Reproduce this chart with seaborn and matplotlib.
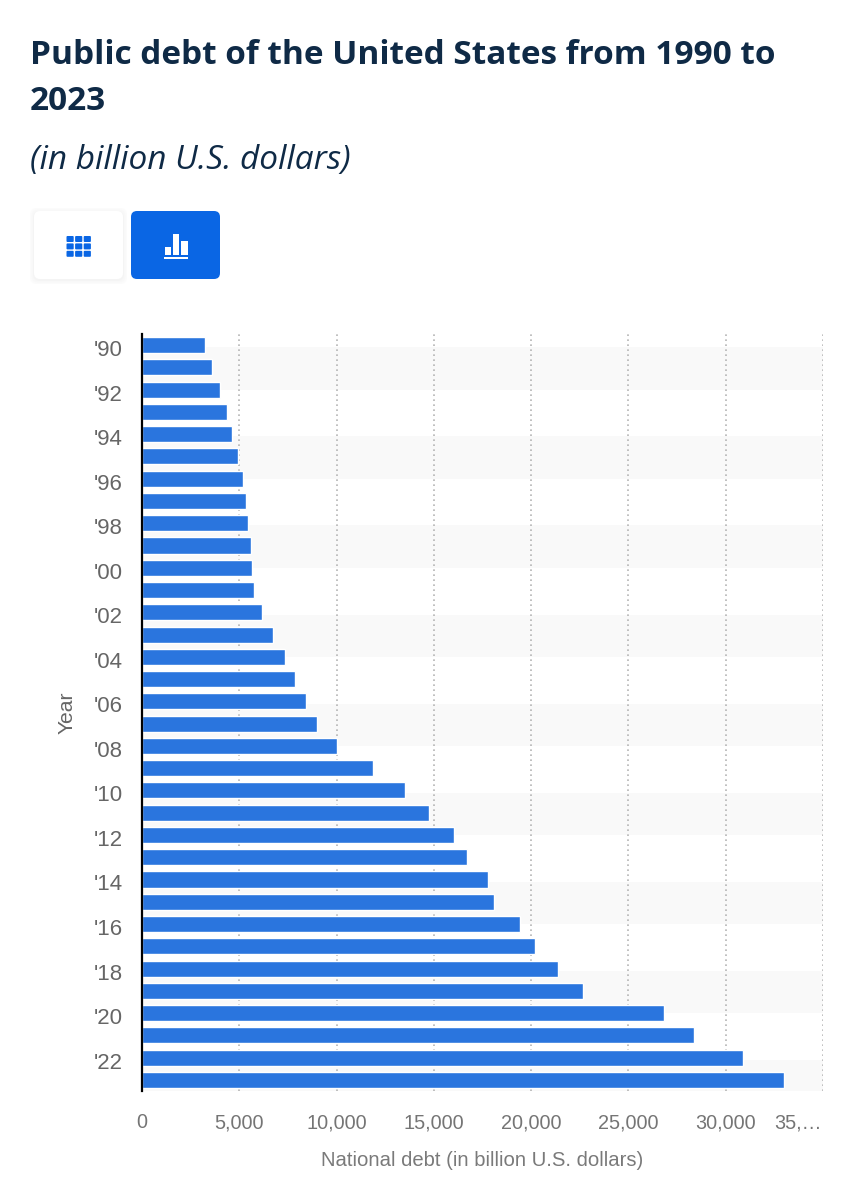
import matplotlib
matplotlib.use("Agg")
import matplotlib.pyplot as plt
from matplotlib.patches import FancyBboxPatch, Rectangle
from matplotlib.transforms import ScaledTranslation
import pandas as pd
import seaborn as sns

# values
years = list(range(1990, 2024))
debt = [3233, 3600, 4000, 4350, 4640, 4950, 5180, 5370, 5450, 5600,
        5650, 5770, 6180, 6730, 7350, 7880, 8450, 9000, 10020, 11880,
        13520, 14730, 16030, 16680, 17780, 18090, 19450, 20180, 21400, 22650,
        26830, 28350, 30890, 33000]
x_ticks = [0, 5000, 10000, 15000, 20000, 25000, 30000, 35000]
x_labels = ["0", "5,000", "10,000", "15,000", "20,000", "25,000", "30,000", "35,…"]
year_labels = ["'%02d" % (y % 100) if i % 2 == 0 else "" for i, y in enumerate(years)]

data = pd.DataFrame({"Year": [str(y) for y in years], "Debt": debt})

sns.set_theme(style="white")
plt.rcParams["font.family"] = ["Liberation Sans", "DejaVu Sans"]

W, H = 863, 1200
fig = plt.figure(figsize=(W / 100, H / 100), dpi=100, facecolor="white")
ax = fig.add_axes([142 / W, 1 - 1091 / H, (823 - 142) / W, (1091 - 334) / H])

# alternating stripes behind the bars
for i in range(0, len(years), 4):
    ax.axhspan(i + 0.1, min(i + 2, len(years) - 0.5), color="#f9f9f9", lw=0, zorder=0)

sns.barplot(data=data, y="Year", x="Debt", color="#2a75de", saturation=1, width=0.72,
            orient="h", ax=ax, zorder=3)

ax.set_xlim(0, 35000)
ax.set_ylim(len(years) - 0.5, -0.5)
ax.set_xticks(x_ticks, x_labels)
ax.set_yticks(range(len(years)), year_labels)
ax.tick_params(axis="x", length=0, pad=16.2, labelsize=14.3, labelcolor="#757575")
ax.tick_params(axis="y", length=0, pad=14, labelsize=16, labelcolor="#666666")

# last x label is cut short and pulled inside the plot
last = ax.get_xticklabels()[-1]
last.set_ha("right")
last.set_transform(last.get_transform() + ScaledTranslation(-0.8 / 72, 0, fig.dpi_scale_trans))
# year labels sit a little under the bar centre
for t in ax.get_yticklabels():
    t.set_transform(t.get_transform() + ScaledTranslation(0, -3 / 100, fig.dpi_scale_trans))

ax.xaxis.grid(True, linestyle=(0, (1, 2)), color="#b5b5b5", linewidth=1.2, zorder=1)
ax.yaxis.grid(False)
ax.set_axisbelow(True)
for side in ["top", "right", "bottom"]:
    ax.spines[side].set_visible(False)
ax.spines["left"].set_color("black")
ax.spines["left"].set_linewidth(1.6)
ax.spines["left"].set_zorder(5)

ax.set_xlabel("")
ax.set_ylabel("")
fig.text(482.5 / W, 1 - 1160 / H, "National debt (in billion U.S. dollars)", ha="center", va="center",
         fontsize=14.6, color="#7a7a7a")
fig.text(67 / W, 1 - 713 / H, "Year", rotation=90, ha="center", va="center", fontsize=15.2, color="#666666")

# title
navy = "#0f2a46"
fig.text(30 / W, 1 - 56 / H, "Public debt of the United States from 1990 to", family="Open Sans",
         fontweight="bold", fontsize=24, color=navy, va="center")
fig.text(30 / W, 1 - 101 / H, "2023", family="Open Sans", fontweight="bold", fontsize=24, color=navy, va="center")
fig.text(30 / W, 1 - 160 / H, "(in billion U.S. dollars)", family="Open Sans", style="italic", fontsize=24,
         color=navy, va="center")

# table / chart buttons, in pixel coordinates
ui = fig.add_axes([0, 0, 1, 1], facecolor="none", zorder=10)
ui.set_xlim(0, W)
ui.set_ylim(H, 0)
ui.axis("off")
blue = "#0a66e4"
for grow, shade in [(4, "#fbfbfb"), (2.5, "#f8f8f8"), (1, "#f4f4f4")]:
    ui.add_patch(FancyBboxPatch((34 - grow, 211 - grow + 1), 89 + 2 * grow, 68 + 2 * grow,
                                boxstyle="round,pad=0,rounding_size=7", fc=shade, ec="none"))
ui.add_patch(FancyBboxPatch((34, 211), 89, 68, boxstyle="round,pad=0,rounding_size=6", fc="white", ec="none"))
ui.add_patch(FancyBboxPatch((131, 211), 89, 68, boxstyle="round,pad=0,rounding_size=6", fc=blue, ec="none"))
for c in range(3):
    for r in range(3):
        ui.add_patch(FancyBboxPatch((66.5 + c * 8.6, 236 + r * 7.4), 7.2, 6,
                                    boxstyle="round,pad=0,rounding_size=1", fc=blue, ec="none"))
for x0, top in [(164.5, 246.5), (172.5, 234), (181, 240.5)]:
    ui.add_patch(Rectangle((x0, top), 6.5, 255 - top, fc="white", ec="none"))
ui.add_patch(Rectangle((164, 257), 24, 2, fc="white", ec="none"))

fig.savefig("out.png", dpi=100)
